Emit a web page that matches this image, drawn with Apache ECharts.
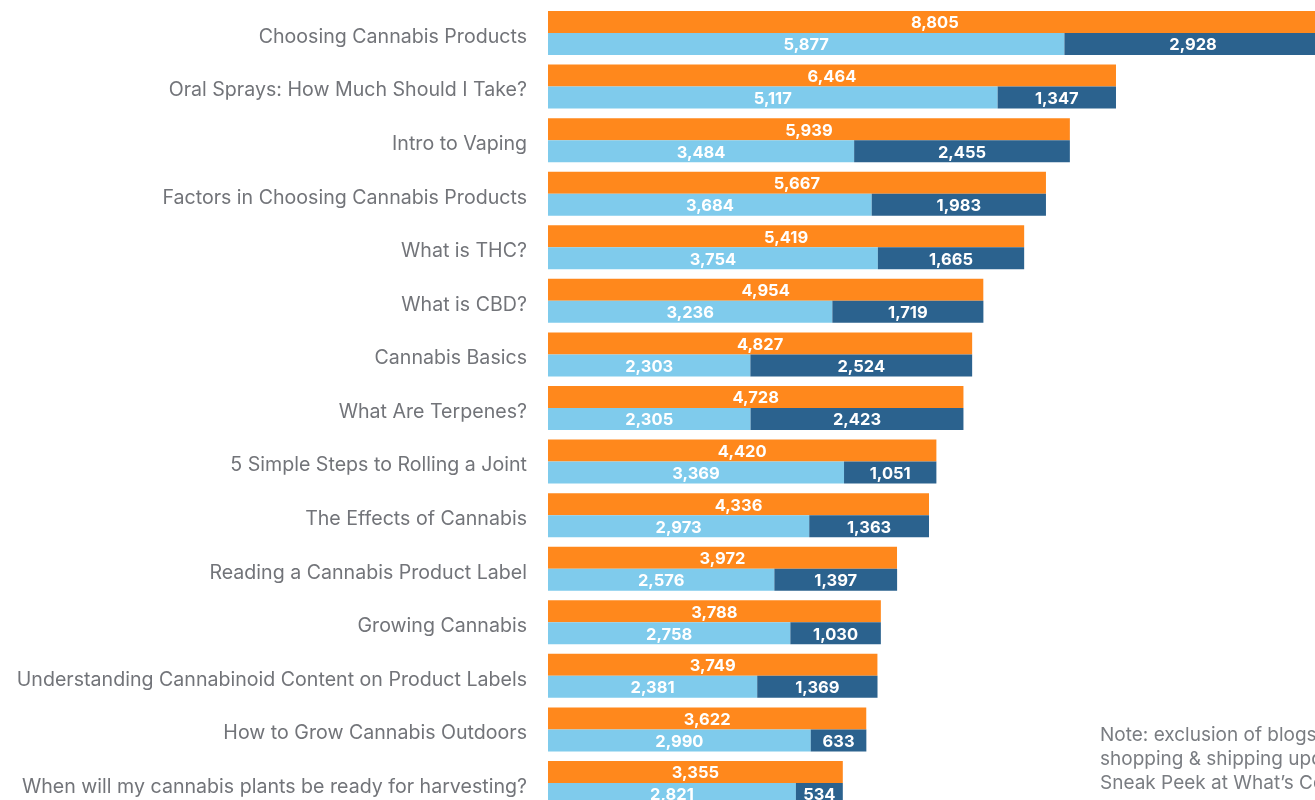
<!DOCTYPE html>
<html>
<head>
<meta charset="utf-8">
<script src="https://cdn.jsdelivr.net/npm/echarts@6/dist/echarts.min.js"></script>
<style>
  html, body { margin: 0; padding: 0; background: #ffffff; overflow: hidden; }
  #chart { width: 1315px; height: 800px; }
</style>
</head>
<body>
<div id="chart"></div>
<script>
// Article titles, top to bottom
const categories = [
  "Choosing Cannabis Products",
  "Oral Sprays: How Much Should I Take?",
  "Intro to Vaping",
  "Factors in Choosing Cannabis Products",
  "What is THC?",
  "What is CBD?",
  "Cannabis Basics",
  "What Are Terpenes?",
  "5 Simple Steps to Rolling a Joint",
  "The Effects of Cannabis",
  "Reading a Cannabis Product Label",
  "Growing Cannabis",
  "Understanding Cannabinoid Content on Product Labels",
  "How to Grow Cannabis Outdoors",
  "When will my cannabis plants be ready for harvesting?"
];

// Total views per article
const totalViews = [8805, 6464, 5939, 5667, 5419, 4954, 4827, 4728, 4420, 4336, 3972, 3788, 3749, 3622, 3355];
// Split of the total into two parts
const partA = [5877, 5117, 3484, 3684, 3754, 3236, 2303, 2305, 3369, 2973, 2576, 2758, 2381, 2990, 2821];
const partB = [2928, 1347, 2455, 1983, 1665, 1719, 2524, 2423, 1051, 1363, 1397, 1030, 1369, 633, 534];

const noteLines = [
  "Note: exclusion of blogs on",
  "shopping & shipping updates",
  "Sneak Peek at What\u2019s Coming"
];

const FONT = "Inter, 'Noto Sans', sans-serif";
const fmt = v => v.toLocaleString('en-US');

const valueLabel = {
  show: true,
  position: 'inside',
  offset: [0, 1.5],
  color: '#ffffff',
  fontFamily: FONT,
  fontWeight: 'bold',
  fontSize: 16.5,
  formatter: p => fmt(p.value)
};

const chart = echarts.init(document.getElementById('chart'), null, { renderer: 'canvas' });

const bandHeight = 53.57;
chart.setOption({
  animation: false,
  backgroundColor: '#ffffff',
  grid: {
    left: 548,
    top: 11 - (bandHeight - 44) / 2,
    width: 9000 * 0.08787,
    height: bandHeight * categories.length,
    containLabel: false,
    outerBoundsMode: 'none'
  },
  xAxis: {
    type: 'value',
    min: 0,
    max: 9000,
    show: false
  },
  yAxis: {
    type: 'category',
    data: categories,
    inverse: true,
    axisLine: { show: false },
    axisTick: { show: false },
    splitLine: { show: false },
    axisLabel: {
      margin: 21,
      color: '#727479',
      fontFamily: FONT,
      fontSize: 19.6,
      verticalAlign: 'top',
      lineHeight: 8
    }
  },
  series: [
    {
      name: 'Total',
      type: 'bar',
      data: totalViews,
      barWidth: 22,
      barGap: '0%',
      itemStyle: { color: '#ff881c' },
      label: valueLabel
    },
    {
      name: 'A',
      type: 'bar',
      stack: 'split',
      data: partA,
      barWidth: 22,
      itemStyle: { color: '#7fcbec' },
      label: valueLabel
    },
    {
      name: 'B',
      type: 'bar',
      stack: 'split',
      data: partB,
      barWidth: 22,
      itemStyle: { color: '#2b628e' },
      label: valueLabel
    }
  ],
  graphic: [
    {
      type: 'text',
      left: 1100,
      top: 723,
      style: {
        text: noteLines.join('\n'),
        fill: '#7a7d82',
        font: '19px ' + FONT,
        lineHeight: 24
      }
    }
  ]
});
</script>
</body>
</html>
